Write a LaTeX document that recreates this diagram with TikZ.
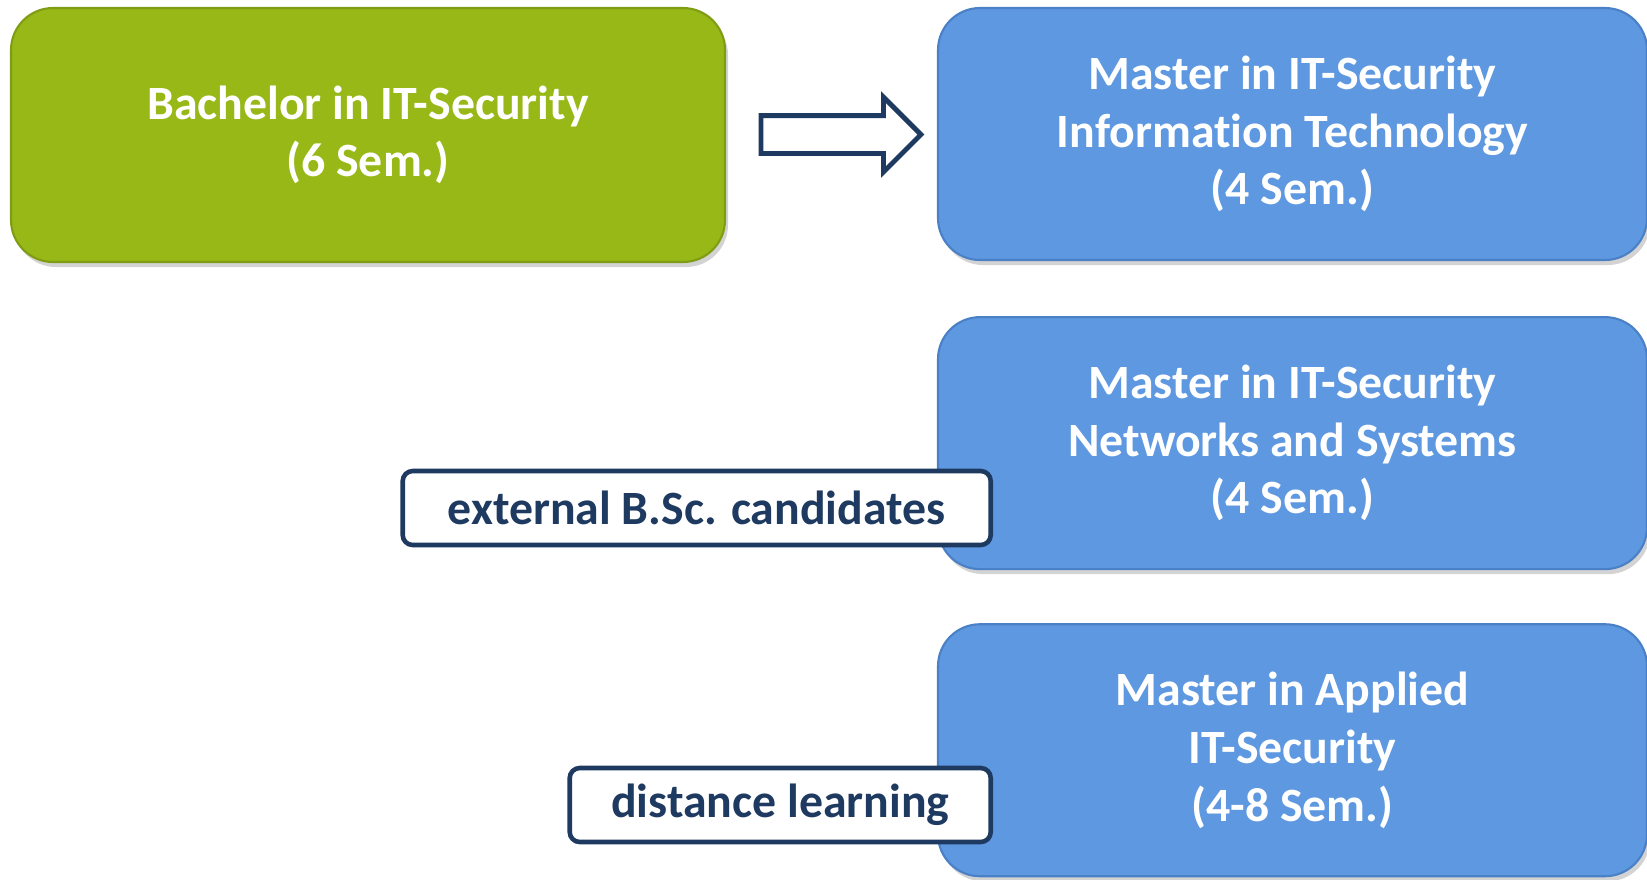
\documentclass[tikz,border=0pt]{standalone}
\usepackage{fontspec}
\setmainfont{Carlito}[Ligatures=NoCommon]
\usetikzlibrary{positioning,shapes.arrows,shadows,calc}

\definecolor{bachgreen}{HTML}{97B817}
\definecolor{bachedge}{HTML}{7F9C14}
\definecolor{masterblue}{HTML}{5E98E0}
\definecolor{masteredge}{HTML}{4A80C6}
\definecolor{navy}{HTML}{1F3A60}

\begin{document}
\begin{tikzpicture}[
    node distance=0.55cm,
    degree/.style={rectangle, draw, rounded corners=0.42cm, minimum width=7.09cm, minimum height=2.52cm, align=center, text=white, line width=0.6pt,
        font=\fontsize{13.6}{16.4}\selectfont\bfseries,
        drop shadow={opacity=0.35, shadow xshift=0.03cm, shadow yshift=-0.05cm}},
    tag/.style={rectangle, draw=navy, fill=white, line width=1.3pt, rounded corners=0.1cm, minimum height=0.74cm, align=center, text=navy,
        font=\fontsize{13.6}{15}\selectfont\bfseries}
]
\useasboundingbox (0,0) rectangle (16.47,-8.79);

% Bachelor on the left, masters stacked on the right
\node[degree, fill=bachgreen, draw=bachedge, minimum width=7.14cm, minimum height=2.54cm] (bach) at (3.68,-1.35) {Bachelor in IT-Security\\(6 Sem.)};
\node[degree, fill=masterblue, draw=masteredge] (infotech) at (12.925,-1.34) {Master in IT-Security\\Information Technology\\(4 Sem.)};
\node[degree, fill=masterblue, draw=masteredge, below=of infotech] (netsys) {Master in IT-Security\\Networks and Systems\\(4 Sem.)};
\node[degree, fill=masterblue, draw=masteredge, below=0.53cm of netsys] (applied) {Master in Applied\\IT-Security\\(4-8 Sem.)};

% Block arrow from bachelor to master
\node[single arrow, draw=navy, fill=white, line width=1.4pt, minimum height=1.6cm, minimum width=0.70cm, single arrow head extend=0.185cm, inner sep=0.165cm] (step1) at ($(bach.east)!0.5!(infotech.west)$) {};

% Entry labels overlapping the masters
\node[tag, minimum width=5.88cm, anchor=east] (external) at (9.93,-5.08) {external B.Sc. candidates};
\node[tag, minimum width=4.21cm, anchor=east] (distance) at (9.93,-8.05) {distance learning};
\end{tikzpicture}
\end{document}
